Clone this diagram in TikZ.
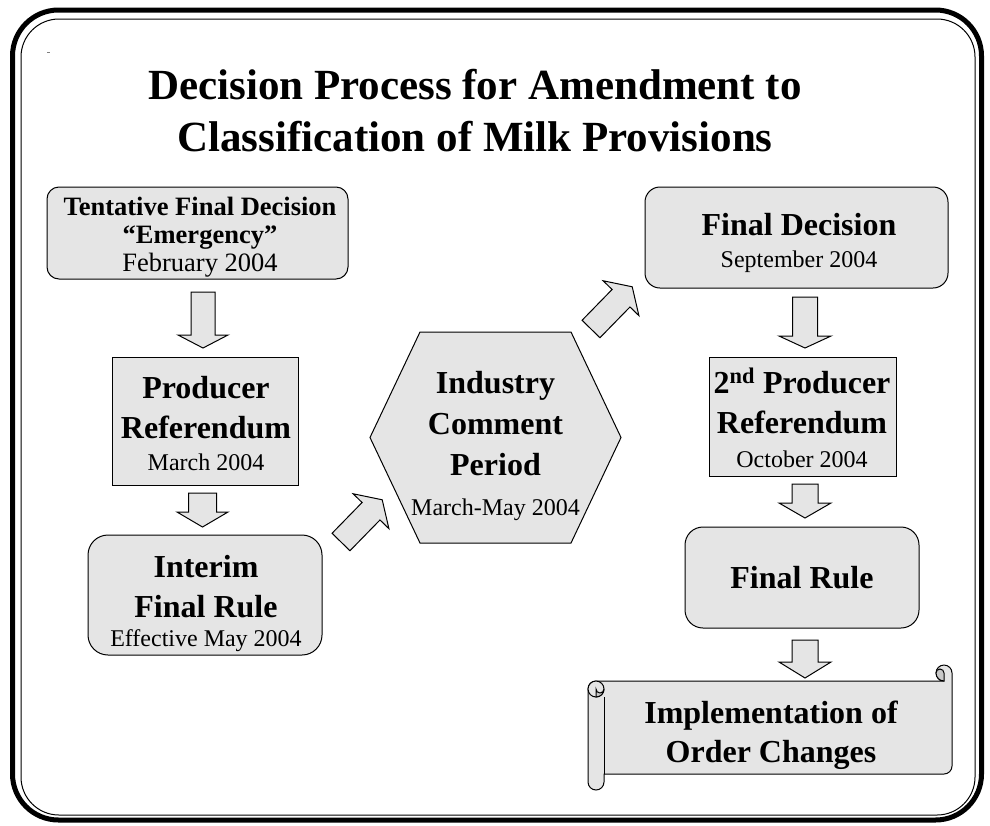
\documentclass[tikz,border=0pt]{standalone}
\usepackage{fontspec}
\setmainfont{Liberation Serif}
\definecolor{boxgray}{RGB}{229,229,229}
\definecolor{folddark}{RGB}{200,200,200}
\tikzset{
  shapebox/.style={draw=black, line width=1pt, fill=boxgray},
  foldpart/.style={draw=black, line width=1pt, fill=folddark},
  arrowbody/.style={draw=black, line width=1pt, fill=boxgray, line join=miter},
  hb/.style={anchor=base, inner sep=0pt, font=\fontsize{32}{32}\selectfont\bfseries},
  hbs/.style={anchor=base, inner sep=0pt, font=\fontsize{26.5}{26.5}\selectfont\bfseries},
  dt/.style={anchor=base, inner sep=0pt, font=\fontsize{24}{24}\selectfont},
  dtl/.style={anchor=base, inner sep=0pt, font=\fontsize{26.5}{26.5}\selectfont},
  ttl/.style={anchor=base, inner sep=0pt, font=\fontsize{43}{43}\selectfont\bfseries},
  pics/barrow/.style n args={4}{code={\draw[arrowbody] (0,-#3) -- (#2,-#3) -- (#2,-#4) -- (#1,0) -- (#2,#4) -- (#2,#3) -- (0,#3) -- cycle;}},
}
\begin{document}
\begin{tikzpicture}[x=1pt,y=-1pt]
\useasboundingbox (0,0) rectangle (990,825);
\fill[white] (0,0) rectangle (990,825);
% frame
\draw[line width=5pt, rounded corners=46pt] (12.5,10) rectangle (981.5,820);
\draw[line width=1pt, rounded corners=38pt] (21,19) rectangle (975,815);
\draw[line width=0.6pt, gray] (47,52) -- (50,52);
% title
\node[ttl] (title1) at (475,99) {Decision Process for Amendment to};
\node[ttl] (title2) at (475,151) {Classification of Milk Provisions};
% box 1
\node[shapebox, rounded corners=12pt, minimum width=301pt, minimum height=92pt] (b1) at (197.5,233) {};
\node[hbs] (b1a) at (200,215) {Tentative Final Decision};
\node[hbs] (b1b) at (200,243) {“Emergency”};
\node[dtl] (b1c) at (200,271) {February 2004};
% box 2
\node[shapebox, minimum width=186pt, minimum height=128pt] (b2) at (205,421) {};
\node[hb] (b2a) at (206,398) {Producer};
\node[hb] (b2b) at (206,438) {Referendum};
\node[dt] (b2c) at (206,470) {March 2004};
% box 3
\node[shapebox, rounded corners=20pt, minimum width=234pt, minimum height=120pt] (b3) at (205,595) {};
\node[hb] (b3a) at (206,577) {Interim};
\node[hb] (b3b) at (206,617) {Final Rule};
\node[dt] (b3c) at (206,646) {Effective May 2004};
% hexagon
\draw[shapebox] (370,437.5) -- (420,332) -- (571,332) -- (621,437.5) -- (571,543) -- (420,543) -- cycle;
\coordinate (hex) at (495.5,437.5);
\node[hb] (h1) at (495.5,393) {Industry};
\node[hb] (h2) at (495.5,434) {Comment};
\node[hb] (h3) at (495.5,475) {Period};
\node[dt] (h4) at (495.5,515) {March-May 2004};
% box 4
\node[shapebox, rounded corners=15pt, minimum width=303pt, minimum height=101pt] (b4) at (796.5,237.5) {};
\node[hb] (b4a) at (799,235) {Final Decision};
\node[dt] (b4b) at (799,267) {September 2004};
% box 5
\node[shapebox, minimum width=187pt, minimum height=119pt] (b5) at (802.5,416.5) {};
\node[hb] (b5a) at (802,393) {2\textsuperscript{nd} Producer};
\node[hb] (b5b) at (802,433) {Referendum};
\node[dt] (b5c) at (802,467) {October 2004};
% box 6
\node[shapebox, rounded corners=18pt, minimum width=234pt, minimum height=101pt] (b6) at (802,577.5) {};
\node[hb] (b6a) at (802,588.5) {Final Rule};
% scroll
\path[shapebox] (944,681) -- (596,681) arc[start angle=90,end angle=180,radius=8pt] -- (588,782) arc[start angle=180,end angle=360,radius=8pt] -- (604,774) -- (944,774) arc[start angle=270,end angle=360,radius=8pt] -- (952,673) arc[start angle=0,end angle=270,radius=8pt] -- cycle;
\coordinate (scroll) at (770,728);
\draw[shapebox] (596,689) circle[radius=8pt];
\path[foldpart] (596,697) arc[start angle=270,end angle=360,radius=8pt] arc[start angle=0,end angle=-180,radius=4pt] -- cycle;
\draw[line width=1pt] (604,697) -- (604,774);
\path[foldpart] (936,673) arc[start angle=180,end angle=0,radius=4pt] -- (944,681) arc[start angle=270,end angle=180,radius=8pt] -- cycle;
\node[hb] (s1) at (771,723) {Implementation of};
\node[hb] (s2) at (771,762) {Order Changes};
% arrows
\pic[rotate=-90] (a1) at (203,292) {barrow={56}{43}{12}{25}};
\pic[rotate=-90] (a2) at (202.5,493) {barrow={34}{19}{14}{25.5}};
\pic[rotate=-90] (a3) at (805,297) {barrow={51}{39}{12.5}{26}};
\pic[rotate=-90] (a4) at (805,484) {barrow={34}{19}{13}{26}};
\pic[rotate=-90] (a5) at (805,640) {barrow={38}{22}{13}{26}};
\pic[rotate=45.7] (d1) at (341,542) {barrow={59}{43}{12.5}{25}};
\pic[rotate=45.7] (d2) at (591,329) {barrow={59}{43}{12.5}{25}};
\end{tikzpicture}
\end{document}
